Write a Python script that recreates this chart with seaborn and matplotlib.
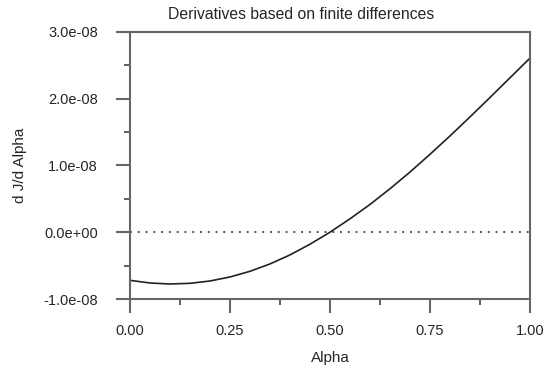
import numpy as np
import pandas as pd
import matplotlib
matplotlib.use("Agg")
import matplotlib.pyplot as plt
import seaborn as sns
from matplotlib.ticker import MultipleLocator, FormatStrFormatter

# Values (derivative in units of 1e-8)
alpha = [0.00, 0.05, 0.10, 0.15, 0.20, 0.25, 0.30, 0.35, 0.40, 0.45, 0.50,
         0.55, 0.60, 0.65, 0.70, 0.75, 0.80, 0.85, 0.90, 0.95, 1.00]
deriv_e8 = [-0.72, -0.76, -0.775, -0.765, -0.73, -0.67, -0.585, -0.475, -0.34, -0.18, 0.0,
            0.20, 0.415, 0.65, 0.90, 1.165, 1.44, 1.725, 2.015, 2.31, 2.605]
yticks = [-1.0e-8, 0.0, 1.0e-8, 2.0e-8, 3.0e-8]
ytick_labels = ["-1.0e-08", "0.0e+00", "1.0e-08", "2.0e-08", "3.0e-08"]
xticks = [0.00, 0.25, 0.50, 0.75, 1.00]

df = pd.DataFrame({"Alpha": alpha, "dJ": np.array(deriv_e8) * 1e-8})

sns.set_style("ticks")
plt.rcParams["font.family"] = ["Liberation Sans", "DejaVu Sans"]

fig = plt.figure(figsize=(5.44, 3.66), dpi=100)
ax = fig.add_axes([0.239, 0.183, 0.735, 0.730])

ax.axhline(0, color="#555555", lw=1.4, ls=(0, (1, 3)))
sns.lineplot(data=df, x="Alpha", y="dJ", ax=ax, color="#222222", lw=1.2)

ax.set_xlim(0, 1)
ax.set_ylim(-1.0e-8, 3.0e-8)
ax.set_xticks(xticks)
ax.set_yticks(yticks)
ax.xaxis.set_minor_locator(MultipleLocator(0.125))
ax.yaxis.set_minor_locator(MultipleLocator(0.5e-8))
ax.xaxis.set_major_formatter(FormatStrFormatter("%.2f"))
ax.set_yticklabels(ytick_labels)

for s in ax.spines.values():
    s.set_color("#666666")
    s.set_linewidth(1.5)
ax.tick_params(which="major", length=10, width=1.5, color="#666666",
               labelsize=10.5)
ax.tick_params(axis="y", which="major", pad=13)
ax.tick_params(axis="x", which="major", pad=8)
ax.tick_params(which="minor", length=4, width=1.2, color="#444444")

# title sits a bit left of the axes centre in the reference
ax.set_title("Derivatives based on finite differences", fontsize=11.3, pad=9, x=0.429)
ax.set_xlabel("Alpha", fontsize=11, labelpad=9)
ax.set_ylabel("d J/d Alpha", fontsize=11, labelpad=12)

fig.savefig("out.png", dpi=100)
